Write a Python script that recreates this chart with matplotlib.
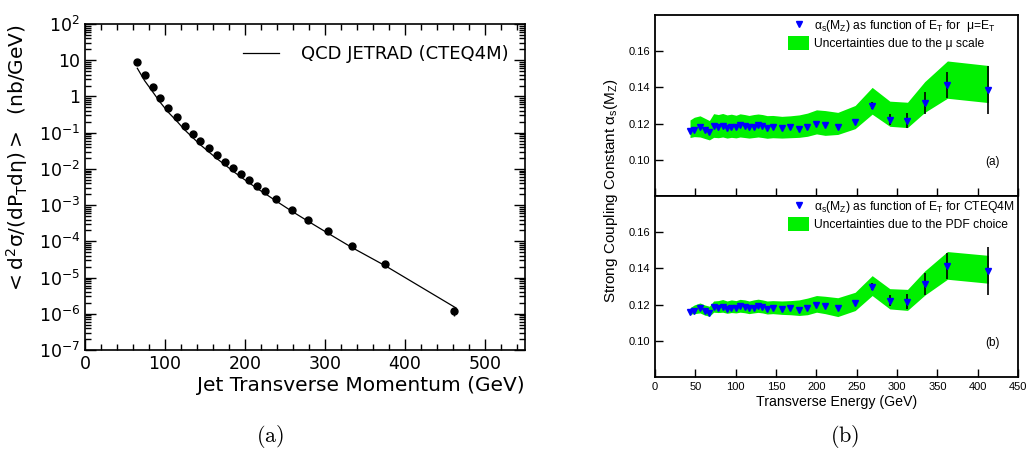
import numpy as np
import matplotlib.pyplot as plt
from matplotlib.lines import Line2D
from matplotlib.patches import Patch
import matplotlib.ticker as mticker

# ---- left panel: jet cross section ----
pt_data = [64.6, 74.5, 84.4, 94.3, 104.2, 114.6, 124.5, 134.4, 144.3, 154.6,
           164.5, 174.9, 184.8, 194.7, 204.6, 214.9, 224.8, 238.6, 258.9, 279.1,
           303.2, 333.4, 375.6, 461.7]
xsec_data = [9.2, 3.86, 1.83, 0.89, 0.48, 0.27, 0.155, 0.093, 0.058, 0.0366,
             0.0239, 0.0156, 0.0104, 0.00726, 0.00495, 0.00345, 0.0024, 0.00151,
             7.5e-4, 4.0e-4, 1.9e-4, 7.5e-5, 2.33e-5, 1.19e-6]
xsec_err = [0] * 23 + [0.3e-6]

pt_theory = [65.4, 74.5, 84.4, 94.3, 104.2, 114.6, 124.5, 134.4, 144.3, 154.6,
             164.5, 174.9, 184.8, 194.7, 204.6, 214.9, 224.8, 238.6, 258.9, 279.1,
             303.2, 333.4, 375.6, 463.7]
xsec_theory = [6.0, 2.73, 1.36, 0.675, 0.364, 0.21, 0.12, 0.074, 0.046, 0.0297,
               0.0194, 0.013, 0.0087, 0.006, 0.0042, 0.0029, 0.0021, 0.00131,
               6.7e-4, 3.56e-4, 1.7e-4, 6.8e-5, 2.1e-5, 1.45e-6]

# ---- right panel: alpha_s vs ET ----
et = [43.4, 48.7, 55.8, 61.6, 67.4, 72.7, 78.5, 83.9, 89.3, 94.7, 100.5, 105.4,
      111.2, 116.6, 122.4, 127.8, 133.2, 139.0, 146.0, 157.2, 167.9, 178.7, 189.0,
      200.2, 210.9, 226.6, 248.1, 269.2, 291.1, 313.0, 334.4, 362.5, 413.4]
alpha = [0.1159, 0.1167, 0.1180, 0.1165, 0.1154, 0.1187, 0.1180, 0.1187, 0.1175,
         0.1183, 0.1180, 0.1190, 0.1187, 0.1180, 0.1183, 0.1190, 0.1187, 0.1176,
         0.1183, 0.1176, 0.1180, 0.1170, 0.1182, 0.1198, 0.1190, 0.1180, 0.1210,
         0.1298, 0.1222, 0.1216, 0.1312, 0.1413, 0.1386]
alpha_err = [0.001] * 27 + [0.002, 0.003, 0.0042, 0.006, 0.0074, 0.0131]

scale_hi = [0.1220, 0.1235, 0.1243, 0.1230, 0.1217, 0.1255, 0.1250, 0.1256, 0.1248,
            0.1252, 0.1246, 0.1254, 0.1250, 0.1245, 0.1250, 0.1253, 0.1250, 0.1244,
            0.1245, 0.1240, 0.1243, 0.1248, 0.1258, 0.1276, 0.1272, 0.1262, 0.1300,
            0.1400, 0.1324, 0.1318, 0.1432, 0.1546, 0.1521]
scale_lo = [0.1123, 0.1128, 0.1126, 0.1118, 0.1110, 0.1124, 0.1122, 0.1126, 0.1120,
            0.1124, 0.1121, 0.1126, 0.1123, 0.1120, 0.1123, 0.1126, 0.1123, 0.1119,
            0.1122, 0.1120, 0.1122, 0.1124, 0.1130, 0.1143, 0.1135, 0.1140, 0.1172,
            0.1252, 0.1185, 0.1178, 0.1262, 0.1340, 0.1316]

pdf_hi = [0.1183, 0.1198, 0.1209, 0.1198, 0.1191, 0.1220, 0.1222, 0.1228, 0.1220,
          0.1226, 0.1222, 0.1229, 0.1226, 0.1220, 0.1226, 0.1230, 0.1226, 0.1220,
          0.1222, 0.1220, 0.1222, 0.1226, 0.1236, 0.1250, 0.1246, 0.1238, 0.1268,
          0.1360, 0.1288, 0.1284, 0.1386, 0.1493, 0.1472]
pdf_lo = [0.1147, 0.1150, 0.1154, 0.1142, 0.1136, 0.1158, 0.1156, 0.1158, 0.1152,
          0.1156, 0.1154, 0.1158, 0.1155, 0.1150, 0.1154, 0.1157, 0.1154, 0.1148,
          0.1150, 0.1146, 0.1144, 0.1140, 0.1144, 0.1158, 0.1150, 0.1134, 0.1167,
          0.1250, 0.1176, 0.1168, 0.1252, 0.1340, 0.1318]

W, H = 1027, 453
fig = plt.figure(figsize=(W / 100, H / 100), dpi=100)
plt.rcParams['font.family'] = 'DejaVu Sans'

GREEN = '#00f000'


def box(x0, y0, x1, y1):
    return [x0 / W, 1 - y1 / H, (x1 - x0) / W, (y1 - y0) / H]


# ------------- left -------------
ax = fig.add_axes(box(85, 24, 525, 350))
ax.set_yscale('log')
ax.plot(pt_theory, xsec_theory, color='black', lw=0.9)
ax.errorbar(pt_data, xsec_data, yerr=xsec_err, fmt='o', color='black',
            ms=5, elinewidth=1, capsize=0)
ax.set_xlim(0, 550)
ax.set_ylim(1e-7, 1e2)
ax.xaxis.set_major_locator(mticker.MultipleLocator(100))
ax.xaxis.set_minor_locator(mticker.MultipleLocator(20))
ax.yaxis.set_major_locator(mticker.LogLocator(base=10, numticks=20))
ax.yaxis.set_minor_locator(mticker.LogLocator(base=10, subs=np.arange(2, 10), numticks=20))
ax.yaxis.set_minor_formatter(mticker.NullFormatter())


def logfmt(v, pos):
    e = int(round(np.log10(v)))
    if e == 0:
        return '1'
    if e == 1:
        return '10'
    return r'$\mathregular{10^{%d}}$' % e


ax.yaxis.set_major_formatter(mticker.FuncFormatter(logfmt))
ax.tick_params(which='both', direction='in', top=True, right=True, labelsize=12.5, width=1)
ax.tick_params(which='major', length=8)
ax.tick_params(which='minor', length=4)
for s in ax.spines.values():
    s.set_linewidth(1.2)
ax.set_xlabel('Jet Transverse Momentum (GeV)', fontsize=14.5, loc='right', labelpad=2)
ax.set_ylabel(r'$\mathregular{<d^2\sigma/(dP_T d\eta)>}$  (nb/GeV)', fontsize=14.5,
              loc='top', labelpad=6)
ax.legend(handles=[Line2D([], [], color='black', lw=0.9)],
          labels=['QCD JETRAD (CTEQ4M)'], loc='upper right', frameon=False,
          fontsize=13, handlelength=2.0, handletextpad=1.2,
          bbox_to_anchor=(1.0, 0.985))

fig.text(270 / W, 1 - 436 / H, r'$\mathrm{(a)}$', fontsize=16, ha='center', va='center',
         math_fontfamily='cm')

# ------------- right -------------
rfont = 'Liberation Sans'
panels = [
    (box(655, 15, 1018, 196), scale_hi, scale_lo,
     r'$\mathregular{\alpha_s(M_Z)}$ as function of $\mathregular{E_T}$ for  μ=$\mathregular{E_T}$',
     'Uncertainties due to the μ scale', '(a)'),
    (box(655, 196, 1018, 377), pdf_hi, pdf_lo,
     r'$\mathregular{\alpha_s(M_Z)}$ as function of $\mathregular{E_T}$ for CTEQ4M',
     'Uncertainties due to the PDF choice', '(b)'),
]
axes_r = []
for rect, hi, lo, lab1, lab2, tag in panels:
    a = fig.add_axes(rect)
    a.fill_between(et, lo, hi, color=GREEN, lw=0)
    a.errorbar(et, alpha, yerr=alpha_err, fmt='none', ecolor='black', elinewidth=1.2)
    a.plot(et, alpha, 'v', color='blue', ms=5, mec='blue')
    a.set_xlim(0, 450)
    a.set_ylim(0.08, 0.18)
    a.set_yticks([0.10, 0.12, 0.14, 0.16])
    a.set_xticks(np.arange(0, 451, 50))
    a.tick_params(direction='in', length=6, width=1, labelsize=8)
    for lbl in a.get_xticklabels() + a.get_yticklabels():
        lbl.set_fontfamily(rfont)
    for s in a.spines.values():
        s.set_linewidth(1.3)
    h1 = Line2D([], [], ls='none', marker='v', color='blue', ms=5)
    h2 = Patch(facecolor=GREEN, edgecolor='none')
    a.legend(handles=[h1, h2], labels=[lab1, lab2], loc='upper left', frameon=False,
             prop={'family': rfont, 'size': 8.75}, handlelength=1.75, handleheight=1.5,
             handletextpad=0.35, labelspacing=0.1, borderaxespad=0, borderpad=0,
             bbox_to_anchor=((788 - 655) / 363, 1 - 3 / 181))
    a.text(0.93, 0.188, tag, transform=a.transAxes, fontsize=8.5, family=rfont,
           ha='center', va='center')
    axes_r.append(a)

axes_r[0].tick_params(labelbottom=False)
axes_r[1].set_xlabel('Transverse Energy (GeV)', fontsize=10.2, family=rfont, labelpad=2)
fig.text(611 / W, 1 - 191 / H, r'Strong Coupling Constant $\mathregular{\alpha_s(M_Z)}$',
         rotation=90, fontsize=11, family=rfont, ha='center', va='center')
fig.text(845 / W, 1 - 436 / H, r'$\mathrm{(b)}$', fontsize=16, ha='center', va='center',
         math_fontfamily='cm')

fig.savefig('out.png', dpi=100)
